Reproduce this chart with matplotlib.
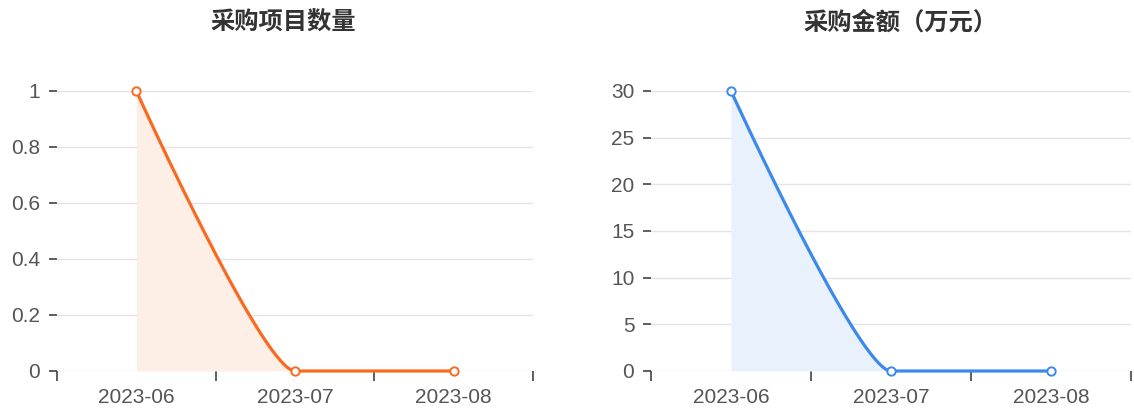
import numpy as np
import matplotlib
matplotlib.use('Agg')
import matplotlib.pyplot as plt

plt.rcParams['font.family'] = ['Liberation Sans', 'Noto Sans CJK SC', 'DejaVu Sans']

months = ['2023-06', '2023-07', '2023-08']
count_vals = [1, 0, 0]
amount_vals = [30, 0, 0]

count_ticks = [0, 0.2, 0.4, 0.6, 0.8, 1]
amount_ticks = [0, 5, 10, 15, 20, 25, 30]


def smooth_curve(xs, ys, sx, sy, smooth=0.15, n=80):
    """echarts 风格的平滑曲线, 在像素尺度下算控制点"""
    p = np.column_stack([np.asarray(xs, float) * sx, np.asarray(ys, float) * sy])
    m = len(p)
    cin = [p[0].copy()]
    cout = [p[0].copy()]
    for i in range(1, m - 1):
        prev, cur, nxt = p[i - 1], p[i], p[i + 1]
        v = nxt - prev
        l0 = np.hypot(*(cur - prev))
        l1 = np.hypot(*(nxt - cur))
        r = l1 / (l0 + l1)
        c_out = cur + v * smooth * r
        c_out = np.clip(c_out, np.minimum(cur, nxt), np.maximum(cur, nxt))
        c_in = cur - (c_out - cur) * l0 / l1
        c_in = np.clip(c_in, np.minimum(prev, cur), np.maximum(prev, cur))
        c_out = cur + (cur - c_in) * l1 / l0
        cin.append(c_in)
        cout.append(c_out)
    cin.append(p[-1].copy())
    cout.append(p[-1].copy())
    t = np.linspace(0, 1, n)[:, None]
    pts = []
    for i in range(m - 1):
        a, b, c, d = p[i], cout[i], cin[i + 1], p[i + 1]
        seg = (1 - t) ** 3 * a + 3 * (1 - t) ** 2 * t * b + 3 * (1 - t) * t ** 2 * c + t ** 3 * d
        pts.append(seg if i == 0 else seg[1:])
    pts = np.vstack(pts)
    return pts[:, 0] / sx, pts[:, 1] / sy


def draw(ax, vals, ticks, color, fill, title, title_x):
    x = np.arange(len(months))
    ymax = ticks[-1]
    cx, cy = smooth_curve(x, vals, 158, 280 / ymax)
    ax.fill_between(cx, cy, 0, color=fill, lw=0, zorder=1)
    ax.plot(cx, cy, color=color, lw=2.3, zorder=3, solid_capstyle='round', clip_on=False)
    ax.plot(x, vals, 'o', ms=6, mfc='white', mec=color, mew=1.4, zorder=4, clip_on=False)

    ax.set_xlim(-0.5, len(months) - 0.5)
    ax.set_ylim(0, ymax)
    ax.set_yticks(ticks)
    ax.set_yticklabels([f'{t:g}' for t in ticks])
    ax.grid(axis='y', color='#e3e3e3', lw=1)
    ax.set_axisbelow(True)
    for s in ax.spines.values():
        s.set_visible(False)

    ax.set_xticks(np.arange(-0.5, len(months)))
    ax.set_xticklabels([])
    ax.set_xticks(x, minor=True)
    ax.set_xticklabels(months, minor=True)
    ax.tick_params(axis='x', which='major', length=7, width=1.1, color='#333333', direction='out')
    ax.tick_params(axis='x', which='minor', length=0, pad=12, labelsize=15, labelcolor='#555555')
    ax.tick_params(axis='y', length=6, width=1.1, color='#333333', pad=6, labelsize=15, labelcolor='#555555')

    ax.figure.text(title_x, 1 - 23 / 412, title, ha='center', va='center',
                   fontsize=17.5, fontweight='bold', color='#333333', family=['Noto Sans CJK SC', 'DejaVu Sans'])


fig = plt.figure(figsize=(11.34, 4.12), dpi=100)
W, H = 1134, 412
ax1 = fig.add_axes([57 / W, (H - 371) / H, (533 - 57) / W, 280 / H])
ax2 = fig.add_axes([651 / W, (H - 371) / H, (1131 - 651) / W, 280 / H])

draw(ax1, count_vals, count_ticks, '#fa6a1e', '#fdeee6', '采购项目数量', 283 / W)
draw(ax2, amount_vals, amount_ticks, '#3c89ee', '#e9f1fc', '采购金额（万元）', 900 / W)

fig.savefig('out.png', dpi=100)
